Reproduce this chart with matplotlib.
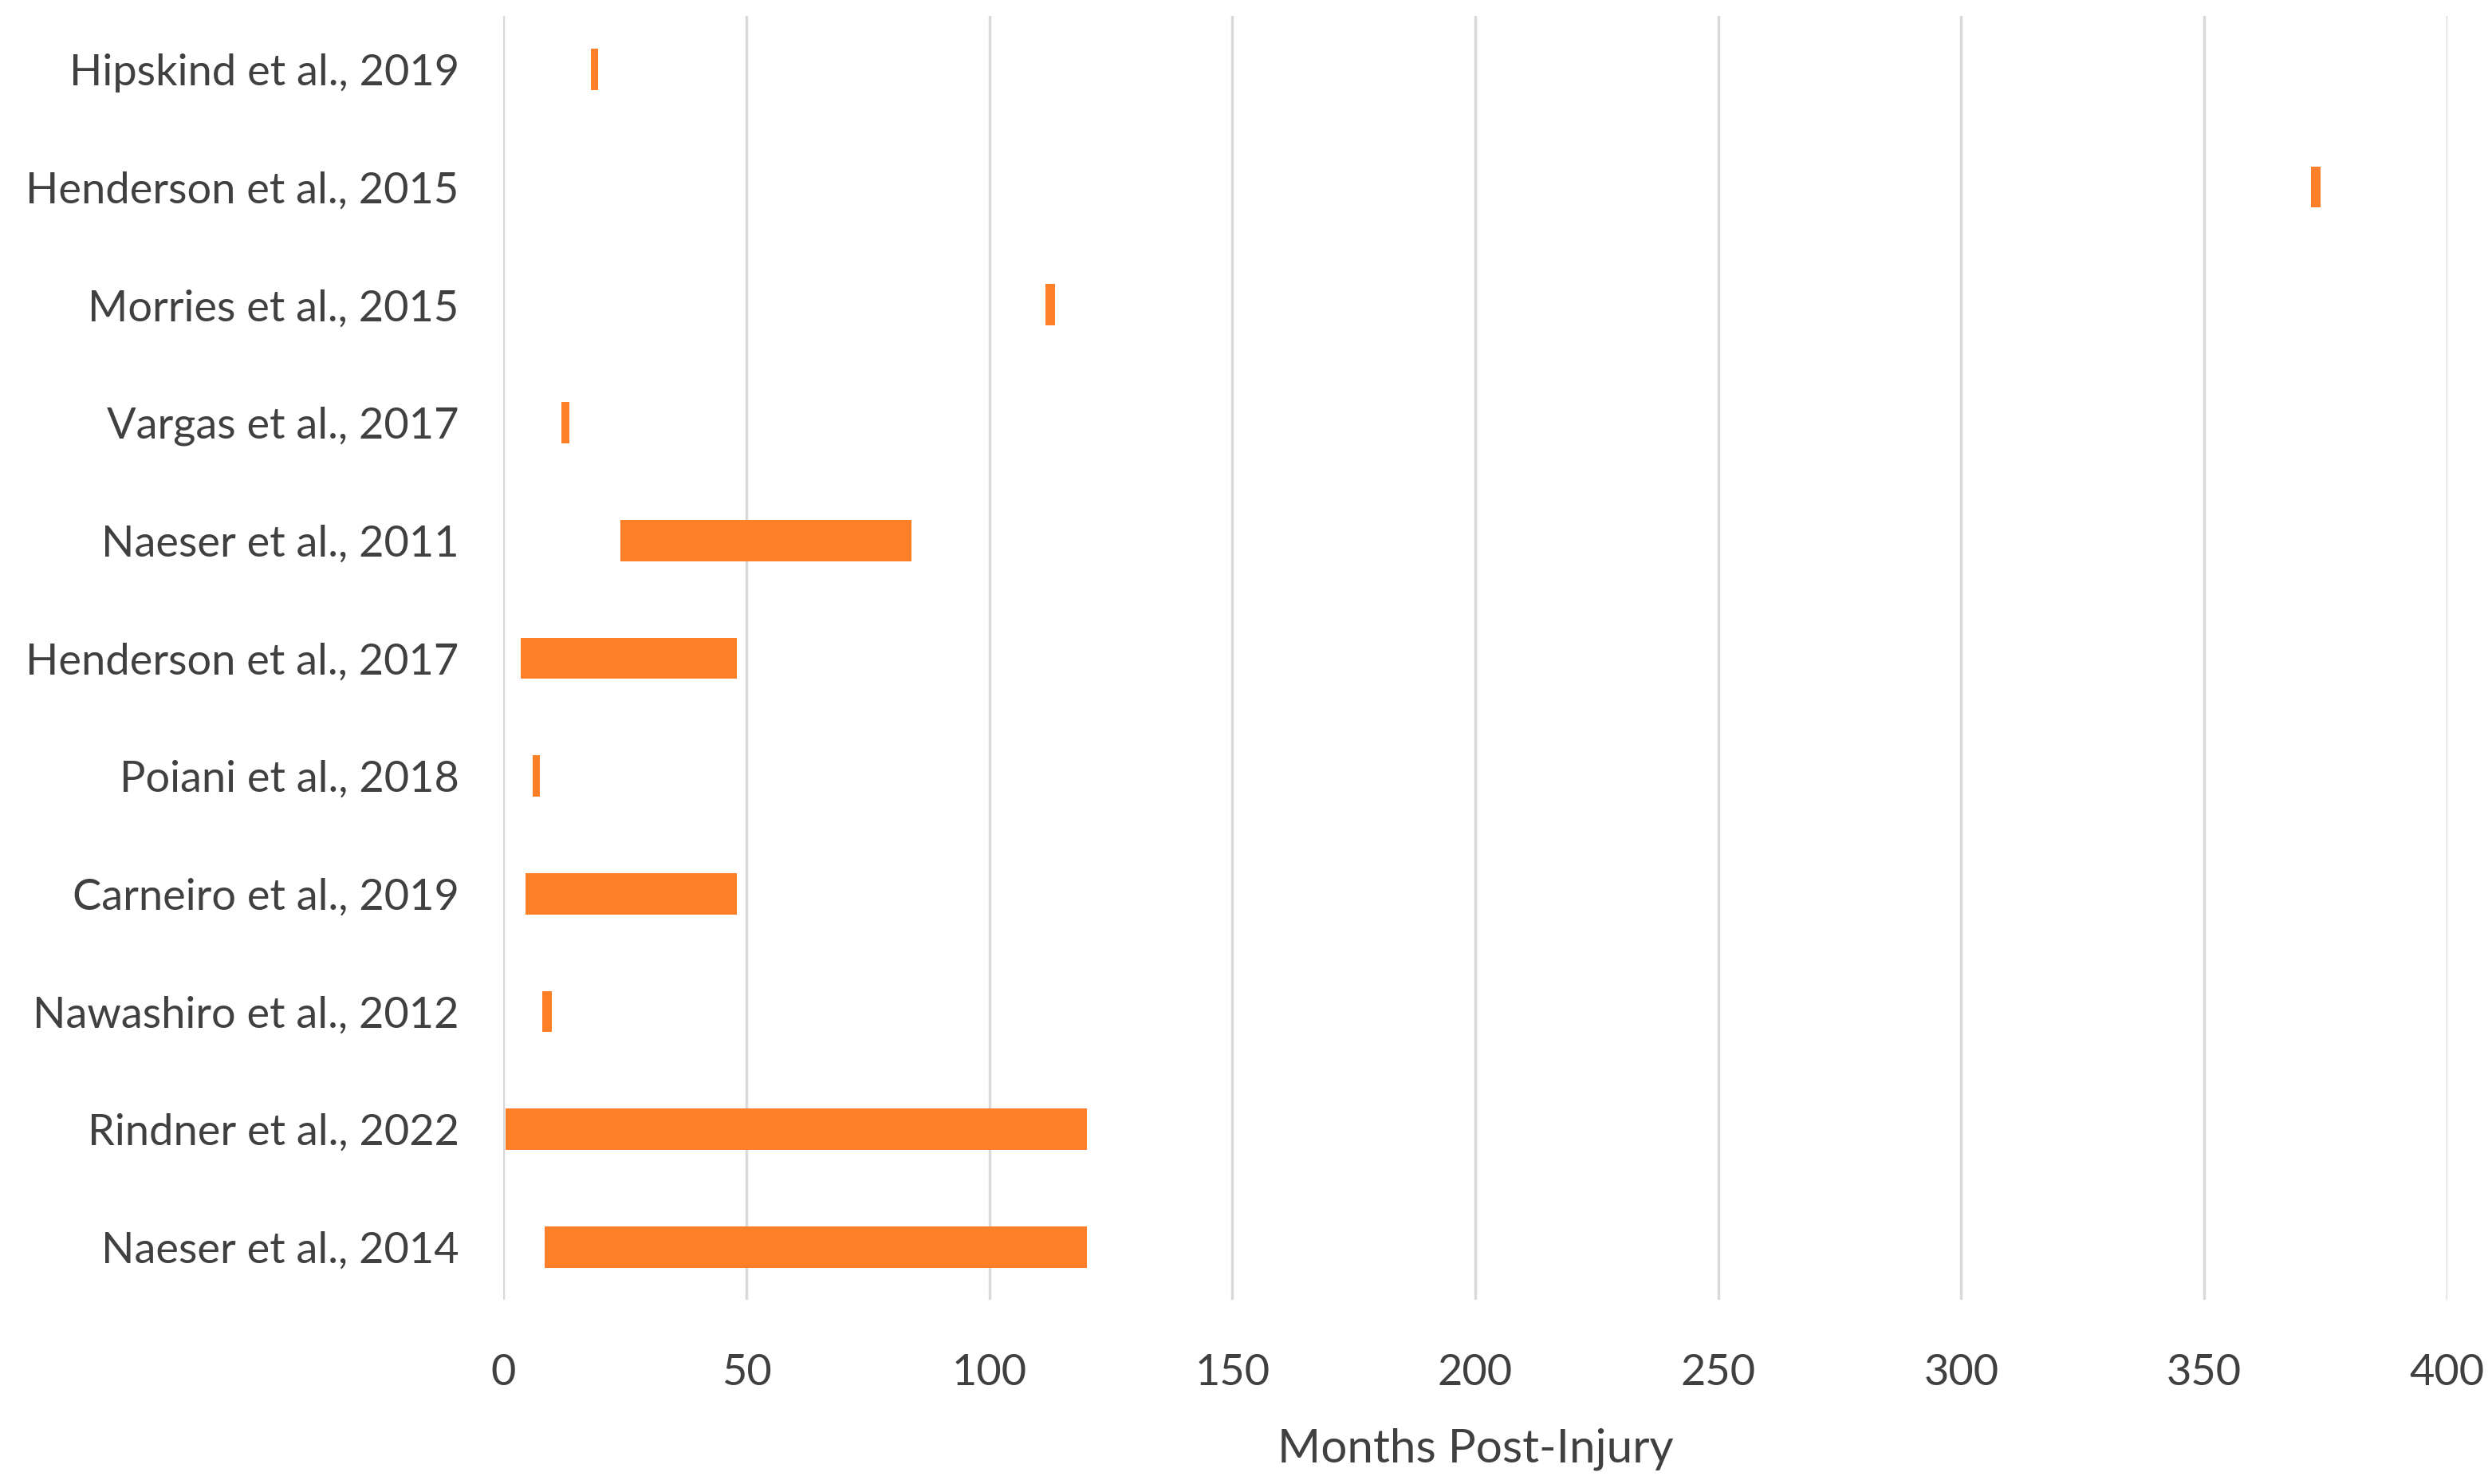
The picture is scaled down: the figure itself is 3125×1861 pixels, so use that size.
import matplotlib.pyplot as plt

plt.rcParams['font.family'] = ['Lato', 'DejaVu Sans']

studies = ["Naeser et al., 2014", "Rindner et al., 2022", "Nawashiro et al., 2012",
           "Carneiro et al., 2019", "Poiani et al., 2018", "Henderson et al., 2017",
           "Naeser et al., 2011", "Vargas et al., 2017", "Morries et al., 2015",
           "Henderson et al., 2015", "Hipskind et al., 2019"]
start = [8.5, 0.5, 8, 4.5, 6, 3.5, 24, 12, 111.5, 372, 18]
end = [120, 120, 10, 48, 7.5, 48, 84, 13.5, 113.5, 374, 19.5]
xticks = [0, 50, 100, 150, 200, 250, 300, 350, 400]

fig = plt.figure(figsize=(31.25, 18.61), dpi=100)
ax = fig.add_axes([0.202, 0.124, 0.78, 0.865])
widths = [e - s for s, e in zip(start, end)]
ax.barh(range(len(studies)), widths, left=start, height=0.35, color="#FD7F28", zorder=3)

ax.set_xlim(0, 400)
ax.set_ylim(-0.45, len(studies) - 0.55)
ax.set_xticks(xticks)
ax.set_yticks(range(len(studies)))
ax.set_yticklabels(studies)
ax.grid(axis="x", color="#D9D9D9", linewidth=2.5, zorder=0)
for s in ax.spines.values():
    s.set_visible(False)
ax.tick_params(length=0, labelsize=39, colors="#404040", pad=40)
ax.tick_params(axis="x", pad=48)
ax.set_xlabel("Months Post-Injury", fontsize=42, color="#404040", labelpad=32)

fig.savefig("out.png", dpi=100)
